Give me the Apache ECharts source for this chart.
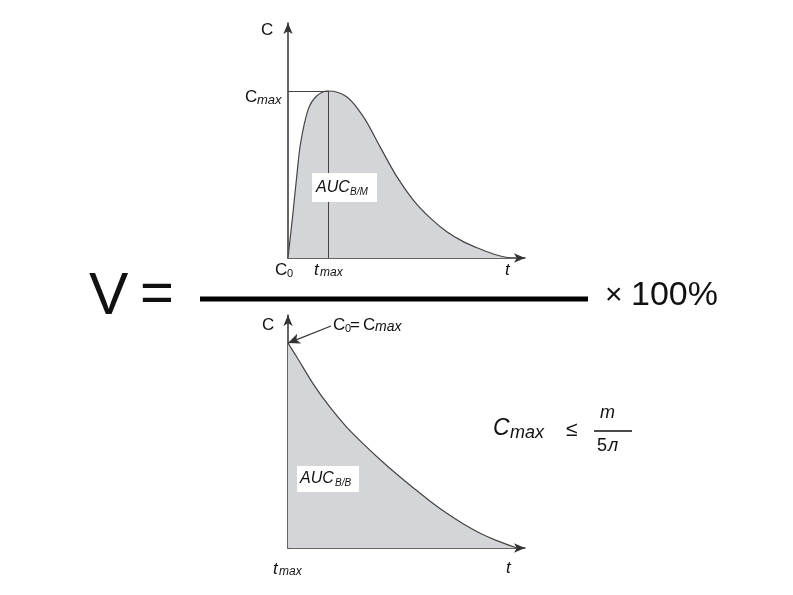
<!DOCTYPE html>
<html><head><meta charset="utf-8">
<script src="https://cdn.jsdelivr.net/npm/echarts@6/dist/echarts.min.js"></script>
<style>html,body{margin:0;padding:0;background:#fff}#c{width:793px;height:595px}</style>
</head><body><div id="c"></div>
<script>
// Top chart (extravascular administration): concentration vs time
const topT = [0, 0.24, 0.39, 0.57, 0.91, 1.29, 1.80, 2.64, 3.39, 4.14, 4.90, 5.64, 6.40, 7.15, 7.89, 8.65, 9.40, 10.0];
const topC = [0, 0.29, 0.485, 0.69, 0.89, 0.97, 1.0, 0.966, 0.846, 0.667, 0.487, 0.347, 0.24, 0.157, 0.098, 0.054, 0.018, 0];
// Bottom chart (intravenous administration)
const botT = [0, 0.39, 1.14, 1.89, 2.64, 3.39, 4.14, 4.90, 5.65, 6.40, 7.15, 7.90, 8.65, 9.40, 10.3];
const botC = [1.0, 0.933, 0.800, 0.687, 0.590, 0.508, 0.432, 0.360, 0.293, 0.228, 0.169, 0.117, 0.072, 0.036, 0];
const tMaxTop = 1.80, cMaxTop = 1.0;
const cMaxBot = 1.0;

const FF = '"Liberation Sans", Arial, sans-serif';
const fillCol = '#d3d5d9', lineCol = '#444', axisCol = '#333';

function axisLine() {
  return {show: true, onZero: false, symbol: ['none', 'arrow'], symbolSize: [7, 11],
          lineStyle: {color: axisCol, width: 1.5}};
}
function xAx(gi) {
  return {type: 'value', gridIndex: gi, min: 0, max: 10.67, axisLine: axisLine(),
          axisTick: {show: false}, axisLabel: {show: false}, splitLine: {show: false}};
}
function yAx(gi, max) {
  return {type: 'value', gridIndex: gi, min: 0, max: max, axisLine: axisLine(),
          axisTick: {show: false}, axisLabel: {show: false}, splitLine: {show: false}};
}
function pairs(t, c) { return t.map((v, i) => [v, c[i]]); }

function T(text, x, cy, size, italic, extra) {
  return Object.assign({type: 'text', x: x, y: cy, z: 20,
    style: {text: text, fontSize: size, fontFamily: FF, fontStyle: italic ? 'italic' : 'normal',
            fill: '#111', align: 'left', verticalAlign: 'middle'}}, extra || {});
}

const graphics = [
  // top chart labels
  T('C', 261, 30, 17),
  T('C', 245, 97, 17), T('max', 257, 100, 13, true),
  T('C', 275, 270, 17), T('0', 287, 274, 11),
  T('t', 314, 270, 17, true), T('max', 320, 273, 12, true),
  T('t', 505, 270, 17, true),
  {type: 'rect', z: 15, shape: {x: 312, y: 173, width: 65, height: 29}, style: {fill: '#fff'}},
  T('AUC', 316, 188, 16, true), T('В/М', 350, 192, 10, true),
  // bottom chart labels
  T('C', 262, 325, 17),
  T('C', 333, 325, 17), T('0', 345, 329, 11), T('=', 350, 325, 17), T('C', 363, 325, 17), T('max', 375, 327, 14, true),
  {type: 'rect', z: 15, shape: {x: 297, y: 466, width: 62, height: 26}, style: {fill: '#fff'}},
  T('AUC', 300, 479, 16, true), T('В/В', 335, 483, 10, true),
  T('t', 273, 569, 17, true), T('max', 279, 572, 12, true),
  T('t', 506, 568, 17, true),
  // formula
  T('V', 89, 298, 59), T('=', 140, 296, 58),
  {type: 'line', z: 20, shape: {x1: 200, y1: 299, x2: 588, y2: 299}, style: {stroke: '#000', lineWidth: 5}},
  T('×', 605, 296, 30), T('100%', 631, 296, 34),
  T('C', 493, 429, 23, true), T('max', 510, 433, 18, true),
  T('≤', 566, 430, 21),
  T('m', 600, 413, 18, true),
  {type: 'line', z: 20, shape: {x1: 594, y1: 431, x2: 632, y2: 431}, style: {stroke: '#111', lineWidth: 1.5}},
  T('5', 597, 446, 18), T('л', 608, 446, 18, true)
];

const chart = echarts.init(document.getElementById('c'));
chart.setOption({
  backgroundColor: '#fff',
  animation: false,
  grid: [
    {left: 288, top: 23, width: 237, height: 235},
    {left: 288, top: 315, width: 237, height: 233}
  ],
  xAxis: [xAx(0), xAx(1)],
  yAxis: [yAx(0, 1.407), yAx(1, 1.137)],
  series: [
    {type: 'line', xAxisIndex: 0, yAxisIndex: 0, data: pairs(topT, topC), smooth: 0.35, symbol: 'none',
     lineStyle: {color: lineCol, width: 1.2}, areaStyle: {color: fillCol, opacity: 1},
     markLine: {silent: true, symbol: 'none', label: {show: false},
       lineStyle: {color: lineCol, width: 1, type: 'solid'},
       data: [[{coord: [0, cMaxTop]}, {coord: [tMaxTop, cMaxTop]}],
              [{coord: [tMaxTop, 0]}, {coord: [tMaxTop, cMaxTop]}]]}},
    {type: 'line', xAxisIndex: 1, yAxisIndex: 1, data: pairs(botT, botC), smooth: 0.3, symbol: 'none',
     lineStyle: {color: lineCol, width: 1.2}, areaStyle: {color: fillCol, opacity: 1},
     markLine: {silent: true, symbol: ['none', 'arrow'], symbolSize: [8, 12], label: {show: false},
       lineStyle: {color: '#333', width: 1.2, type: 'solid'},
       data: [[{x: 331, y: 326}, {coord: [0, cMaxBot]}]]}}
  ],
  graphic: graphics
});
</script>
</body></html>
